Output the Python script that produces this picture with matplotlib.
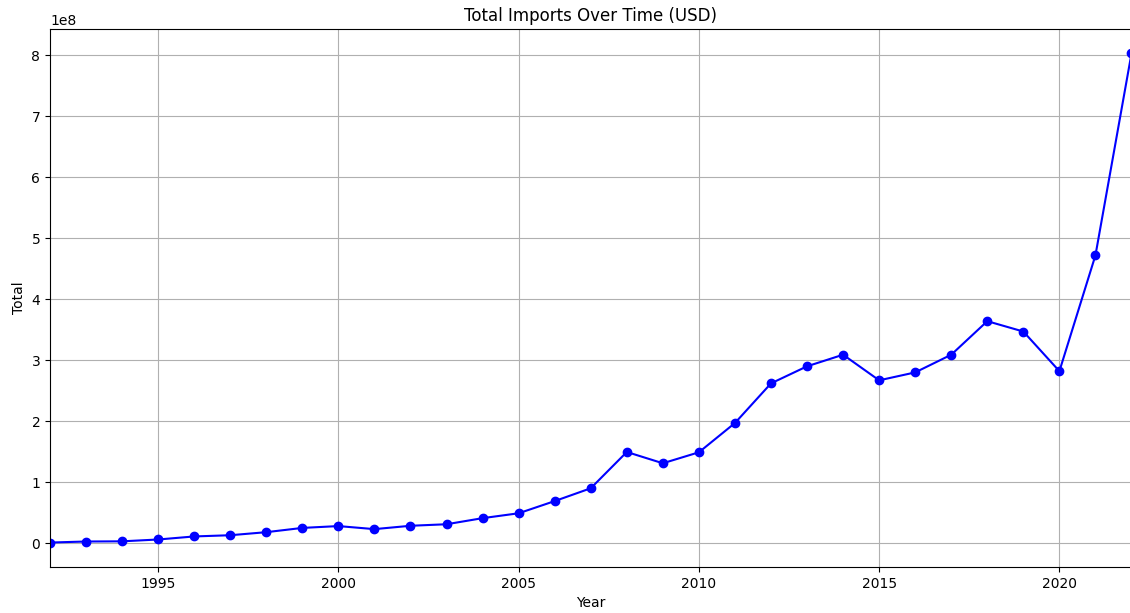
import matplotlib
matplotlib.use("Agg")
import matplotlib.pyplot as plt

years = list(range(1992, 2023))
totals_1e8 = [0.01, 0.027, 0.03, 0.06, 0.11, 0.13, 0.18, 0.25, 0.28, 0.23,
              0.285, 0.31, 0.41, 0.49, 0.69, 0.90, 1.495, 1.31, 1.49, 1.97,
              2.62, 2.90, 3.09, 2.67, 2.80, 3.09, 3.64, 3.47, 2.82, 4.72, 8.03]
totals = [v * 1e8 for v in totals_1e8]

W, H = 1130, 613
fig = plt.figure(figsize=(W / 100, H / 100), dpi=100)
ax = fig.add_axes([50 / W, 46 / H, 1081.5 / W, 538 / H])
ax.plot(years, totals, marker='o', color='blue')
ax.set_xlim(1992, 2022)
ax.set_title("Total Imports Over Time (USD)", fontsize=12)
ax.set_xlabel("Year")
ax.set_ylabel("Total")
ax.grid(True)
fig.savefig("out.png", dpi=100)
